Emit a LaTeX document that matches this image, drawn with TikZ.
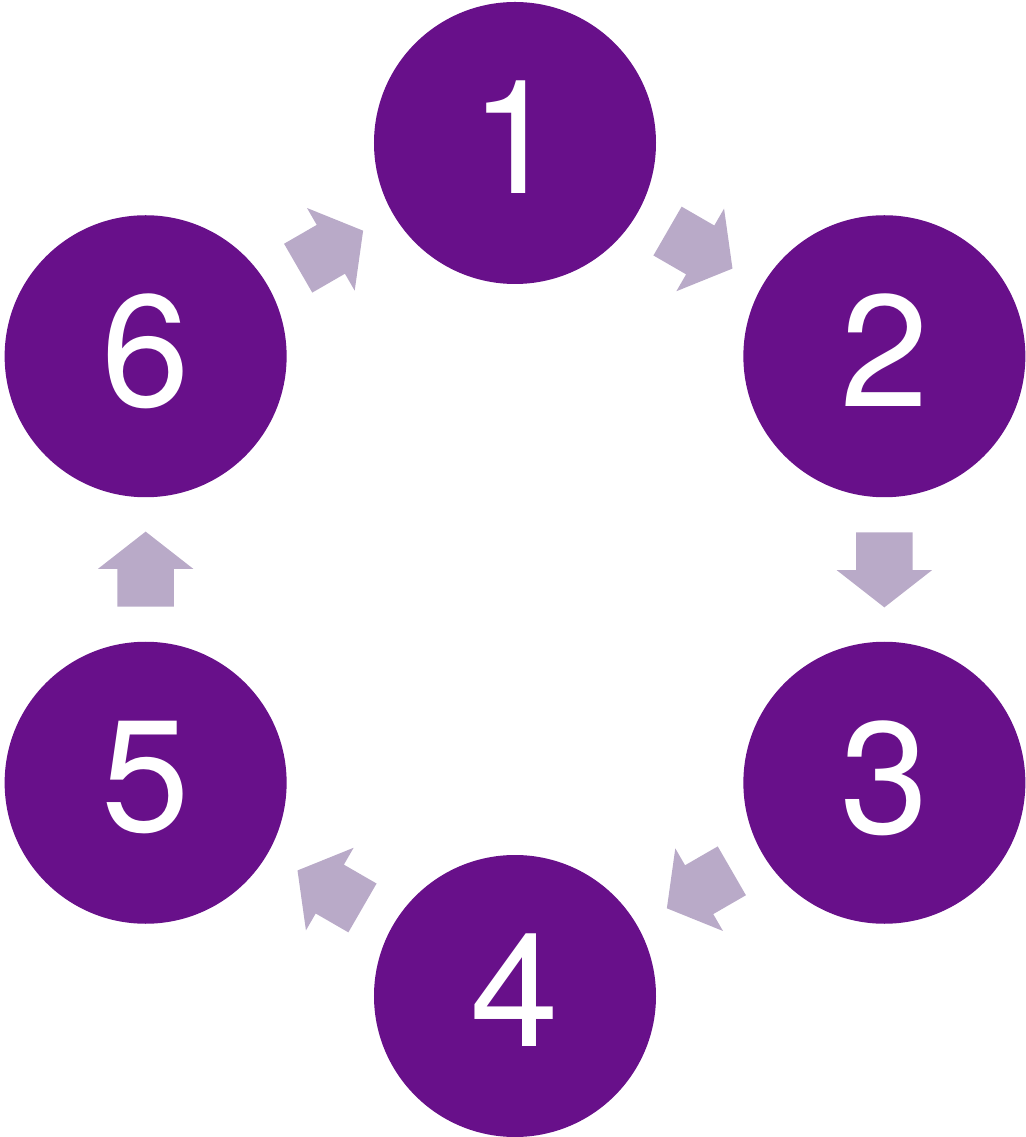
\documentclass[tikz,border=0pt]{standalone}
\usepackage{fontspec}
\setmainfont{TeX Gyre Heros}
\usetikzlibrary{shapes.arrows}
\definecolor{stagefill}{HTML}{68108A}
\definecolor{flowfill}{HTML}{B9AAC8}
\tikzset{
  stage/.style={circle, fill=stagefill, minimum size=282pt, inner sep=0pt,
    text=white, text depth=12pt, font=\fontsize{159}{159}\selectfont},
  flow/.style={single arrow, fill=flowfill, draw=none,
    inner xsep=0pt, inner ysep=28pt, text height=0pt, text depth=0pt,
    minimum height=75pt, minimum width=95pt,
    single arrow head extend=19.5pt, single arrow tip angle=104,
    single arrow head indent=0pt, sloped, allow upside down,
    pos=0.241, anchor=tail}
}
\begin{document}
\begin{tikzpicture}[x=1pt,y=1pt]
      \useasboundingbox (-515,-567.5) rectangle (510,569.5);
      \path
        (90:426.5) node[stage] (1){1}
        (30:426.5) node[stage] (2){2}
        (-30:426.5) node[stage] (3){3}
        (-90:426.5) node[stage] (4){4}
        (-150:426.5) node[stage] (5){5}
        (150:426.5) node[stage] (6){6};
      \begin{scope}
        \path (1) -- (2) node[flow]{};
        \path (2) -- (3) node[flow]{};
        \path (3) -- (4) node[flow]{};
        \path (4) -- (5) node[flow]{};
        \path (5) -- (6) node[flow]{};
        \path (6) -- (1) node[flow]{};
      \end{scope}
    \end{tikzpicture}
\end{document}
